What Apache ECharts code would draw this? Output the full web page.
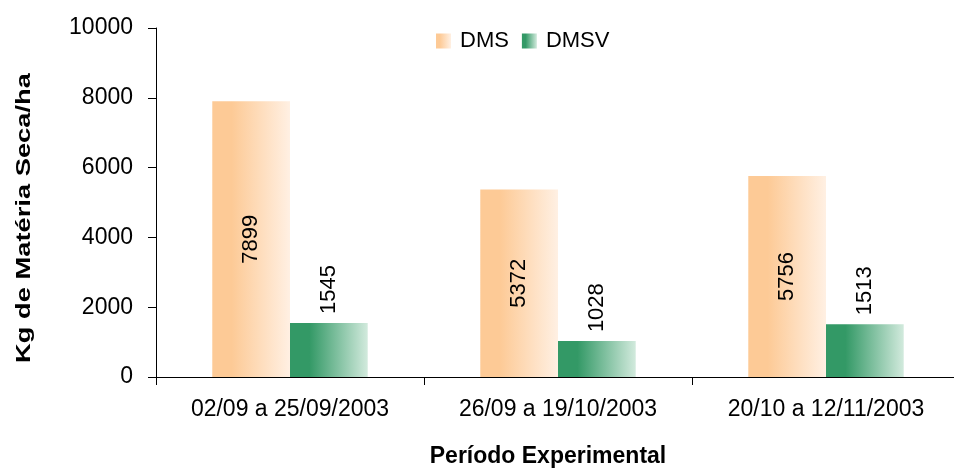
<!DOCTYPE html>
<html>
<head>
<meta charset="utf-8">
<script src="https://cdn.jsdelivr.net/npm/echarts@6/dist/echarts.min.js"></script>
<style>
  html, body { margin: 0; padding: 0; background: #fff; overflow: hidden; }
  #chart { width: 960px; height: 470px; }
</style>
</head>
<body>
<div id="chart"></div>
<script>
// dados
var periodos = ['02/09 a 25/09/2003', '26/09 a 19/10/2003', '20/10 a 12/11/2003']
var dms = [7899, 5372, 5756]
var dmsv = [1545, 1028, 1513]
var yTicks = [0, 2000, 4000, 6000, 8000, 10000]

var fontFam = '"Liberation Sans", Arial, sans-serif'

function grad(c1, c2) {
  return new echarts.graphic.LinearGradient(0, 0, 1, 0, [
    { offset: 0, color: c1 },
    { offset: 0.25, color: c1 },
    { offset: 1, color: c2 }
  ])
}

var chart = echarts.init(document.getElementById('chart'))
chart.setOption({
  animation: false,
  backgroundColor: '#ffffff',
  textStyle: { fontFamily: fontFam },
  legend: {
    top: 30,
    left: 436,
    padding: 0,
    itemWidth: 15,
    itemHeight: 15,
    itemGap: 13,
    icon: 'rect',
    textStyle: { fontSize: 22, color: '#000', fontFamily: fontFam, padding: [0, 0, 0, 4] },
    data: ['DMS', 'DMSV']
  },
  grid: {
    left: 156,
    right: 0,
    top: 28,
    bottom: 93,
    containLabel: false
  },
  xAxis: {
    type: 'category',
    data: periodos,
    axisLine: { lineStyle: { color: '#000', width: 1 } },
    axisTick: { show: true, length: 8, lineStyle: { color: '#000' } },
    axisLabel: { color: '#000', fontSize: 23, margin: 21, fontFamily: fontFam }
  },
  yAxis: {
    type: 'value',
    min: yTicks[0],
    max: yTicks[yTicks.length - 1],
    interval: 2000,
    axisLine: { show: true, lineStyle: { color: '#000', width: 1 } },
    axisTick: { show: true, length: 8, lineStyle: { color: '#000' } },
    splitLine: { show: false },
    axisLabel: {
      color: '#000',
      fontSize: 23,
      margin: 23,
      fontFamily: fontFam,
      formatter: function (v) { return String(v) }
    }
  },
  graphic: [
    {
      type: 'text',
      x: 24,
      y: 218,
      rotation: Math.PI / 2,
      scaleX: 1.3,
      style: {
        text: 'Kg de Matéria Seca/ha',
        font: 'bold 21px ' + fontFam,
        fill: '#000',
        align: 'center',
        verticalAlign: 'middle'
      }
    },
    {
      type: 'text',
      x: 548,
      y: 457,
      style: {
        text: 'Período Experimental',
        font: 'bold 23px ' + fontFam,
        fill: '#000',
        align: 'center',
        verticalAlign: 'middle'
      }
    }
  ],
  series: [
    {
      name: 'DMS',
      type: 'bar',
      data: dms,
      barWidth: '29%',
      barGap: '0%',
      itemStyle: { color: grad('#fdca96', '#fff0e3') },
      label: {
        show: true,
        position: 'inside',
        rotate: 90,
        color: '#000',
        fontSize: 22,
        fontFamily: fontFam
      }
    },
    {
      name: 'DMSV',
      type: 'bar',
      data: dmsv,
      barWidth: '29%',
      barGap: '0%',
      itemStyle: { color: grad('#339966', '#d2eadd') },
      label: {
        show: true,
        position: 'top',
        rotate: 90,
        align: 'left',
        verticalAlign: 'middle',
        distance: 9,
        color: '#000',
        fontSize: 22,
        fontFamily: fontFam
      }
    }
  ]
})
</script>
</body>
</html>
